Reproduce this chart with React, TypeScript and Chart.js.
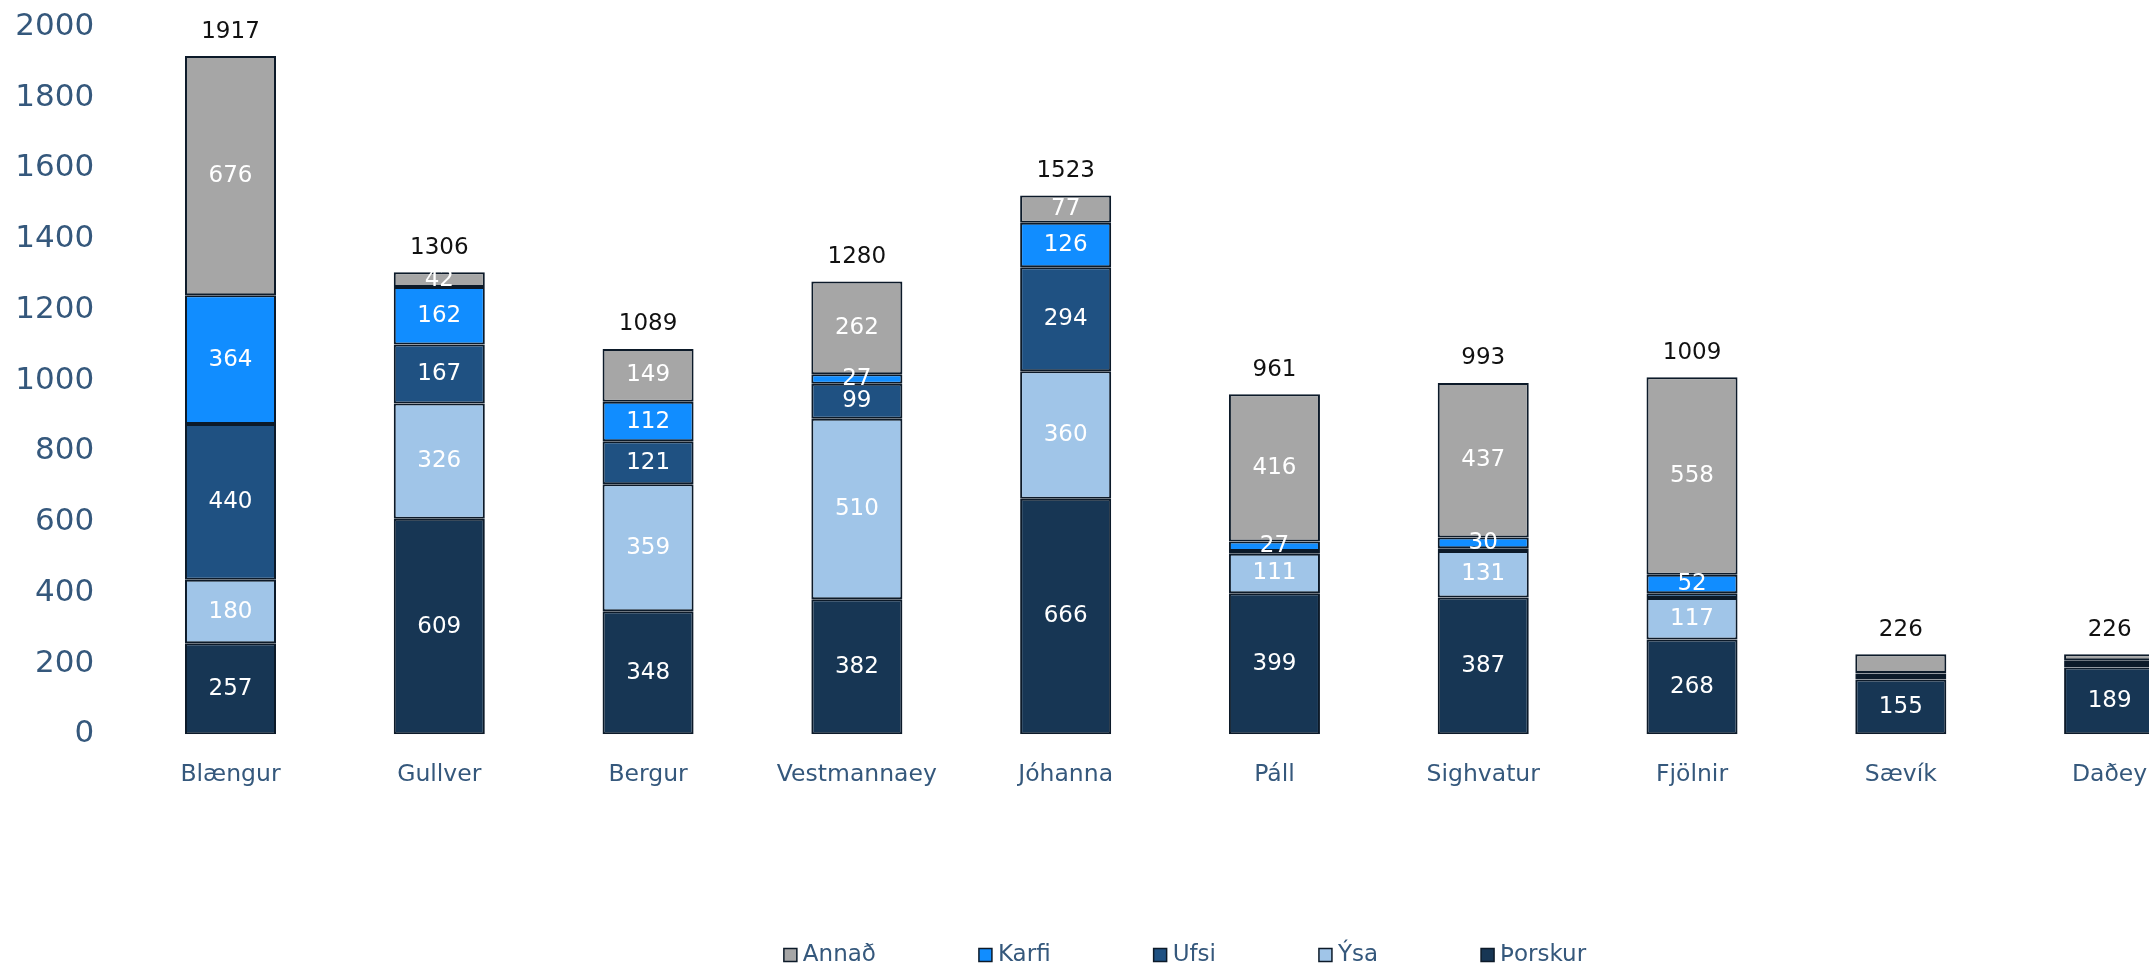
import React, { useEffect, useRef } from "react";
import { Chart, registerables } from "chart.js";

Chart.register(...registerables);

const categories = ["Blængur", "Gullver", "Bergur", "Vestmannaey", "Jóhanna", "Páll", "Sighvatur", "Fjölnir", "Sævík", "Daðey"];
const thorskur = [257, 609, 348, 382, 666, 399, 387, 268, 155, 189];
const ysa = [180, 326, 359, 510, 360, 111, 131, 117, 7, 10];
const ufsi = [440, 167, 121, 99, 294, 8, 8, 14, 10, 8];
const karfi = [364, 162, 112, 27, 126, 27, 30, 52, 1, 2];
const annad = [676, 42, 149, 262, 77, 416, 437, 558, 53, 17];
const yTicks = [0, 200, 400, 600, 800, 1000, 1200, 1400, 1600, 1800, 2000];

const seriesNames = ["Þorskur", "Ýsa", "Ufsi", "Karfi", "Annað"];
const seriesColors = ["#173654", "#a0c5e8", "#1f5182", "#118dff", "#a6a6a6"];

const FONT = '"DejaVu Sans", Verdana, sans-serif';
const AXIS_COLOR = "#35587c";
const BORDER = "#0c1a29";
const CANVAS_W = 2370;
const CANVAS_H = 967;

const segLabels = {
  id: "segLabels",
  afterDatasetsDraw(chart: any) {
    const ctx = chart.ctx;
    ctx.save();
    ctx.font = `23px ${FONT}`;
    ctx.fillStyle = "#ffffff";
    ctx.textAlign = "center";
    ctx.textBaseline = "middle";
    const totals = categories.map((_, i) =>
      chart.data.datasets.reduce((a: number, ds: any) => a + ds.data[i], 0)
    );
    chart.data.datasets.forEach((ds: any, di: number) => {
      const meta = chart.getDatasetMeta(di);
      meta.data.forEach((el: any, i: number) => {
        const v = ds.data[i];
        if (v < 20) return;
        // short stacks: only the base segment carries a label
        if (totals[i] < 300 && di > 0) return;
        ctx.fillText(String(v), el.x, (el.y + el.base) / 2);
      });
    });
    // totals
    const yScale = chart.scales.y;
    const topMeta = chart.getDatasetMeta(chart.data.datasets.length - 1);
    ctx.fillStyle = "#111111";
    totals.forEach((total, i) => {
      const x = topMeta.data[i].x;
      const y = yScale.getPixelForValue(total);
      ctx.fillText(String(total), x, y - 24.5);
    });
    ctx.restore();
  },
};

const customLegend = {
  id: "customLegend",
  afterDraw(chart: any) {
    const ctx = chart.ctx;
    ctx.save();
    ctx.font = `23px ${FONT}`;
    const items = chart.data.datasets
      .map((ds: any) => ({ label: ds.label, color: ds.backgroundColor }))
      .reverse();
    const box = 13;
    const gapText = 6;
    const gapItem = 103;
    const widths = items.map((it: any) => box + gapText + ctx.measureText(it.label).width);
    const total = widths.reduce((a: number, b: number) => a + b, 0) + gapItem * (items.length - 1);
    let x = chart.width / 2 - total / 2;
    const cy = chart.height - 12;
    items.forEach((it: any, i: number) => {
      ctx.fillStyle = it.color;
      ctx.fillRect(x, cy - box / 2, box, box);
      ctx.strokeStyle = BORDER;
      ctx.lineWidth = 1.5;
      ctx.strokeRect(x, cy - box / 2, box, box);
      ctx.fillStyle = AXIS_COLOR;
      ctx.textAlign = "left";
      ctx.textBaseline = "middle";
      ctx.fillText(it.label, x + box + gapText, cy);
      x += widths[i] + gapItem;
    });
    ctx.restore();
  },
};

export default function App() {
  const ref = useRef<HTMLCanvasElement | null>(null);

  useEffect(() => {
    if (!ref.current) return;
    const seriesData = [thorskur, ysa, ufsi, karfi, annad];
    const chart = new Chart(ref.current, {
      type: "bar",
      data: {
        labels: categories,
        datasets: seriesNames.map((name, i) => ({
          label: name,
          data: seriesData[i],
          backgroundColor: seriesColors[i],
          borderColor: BORDER,
          borderWidth: 2,
          borderSkipped: false,
          categoryPercentage: 1,
          barPercentage: 0.436,
        })),
      },
      options: {
        responsive: false,
        maintainAspectRatio: false,
        devicePixelRatio: 1,
        animation: false,
        layout: { padding: { top: 26.7, right: CANVAS_W - 2214, bottom: 0, left: 0 } },
        plugins: {
          legend: { display: false },
          tooltip: { enabled: false },
        },
        scales: {
          x: {
            stacked: true,
            grid: { display: false },
            border: { display: false },
            ticks: {
              font: { family: FONT, size: 23.5 },
              color: AXIS_COLOR,
              padding: 18,
              maxRotation: 0,
              autoSkip: false,
            },
            afterFit: (s: any) => {
              s.height = CANVAS_H - 734.3;
            },
          },
          y: {
            stacked: true,
            min: 0,
            max: 2000,
            grid: { display: false, drawTicks: false },
            border: { display: false },
            afterBuildTicks: (s: any) => {
              s.ticks = yTicks.map((v) => ({ value: v }));
            },
            ticks: {
              font: { family: FONT, size: 31 },
              color: AXIS_COLOR,
              padding: 32,
              callback: (v: any) => String(v),
            },
            afterFit: (s: any) => {
              s.width = 126.1;
              s.paddingTop = 0;
              s.paddingBottom = 0;
            },
          },
        },
      },
      plugins: [segLabels, customLegend],
    });
    return () => chart.destroy();
  }, []);

  return (
    <div
      style={{
        position: "absolute",
        left: 0,
        top: 0,
        width: "2149px",
        height: "967px",
        overflow: "hidden",
        background: "#ffffff",
      }}
    >
      <canvas
        ref={ref}
        width={CANVAS_W}
        height={CANVAS_H}
        style={{ display: "block", width: CANVAS_W + "px", height: CANVAS_H + "px" }}
      />
    </div>
  );
}
